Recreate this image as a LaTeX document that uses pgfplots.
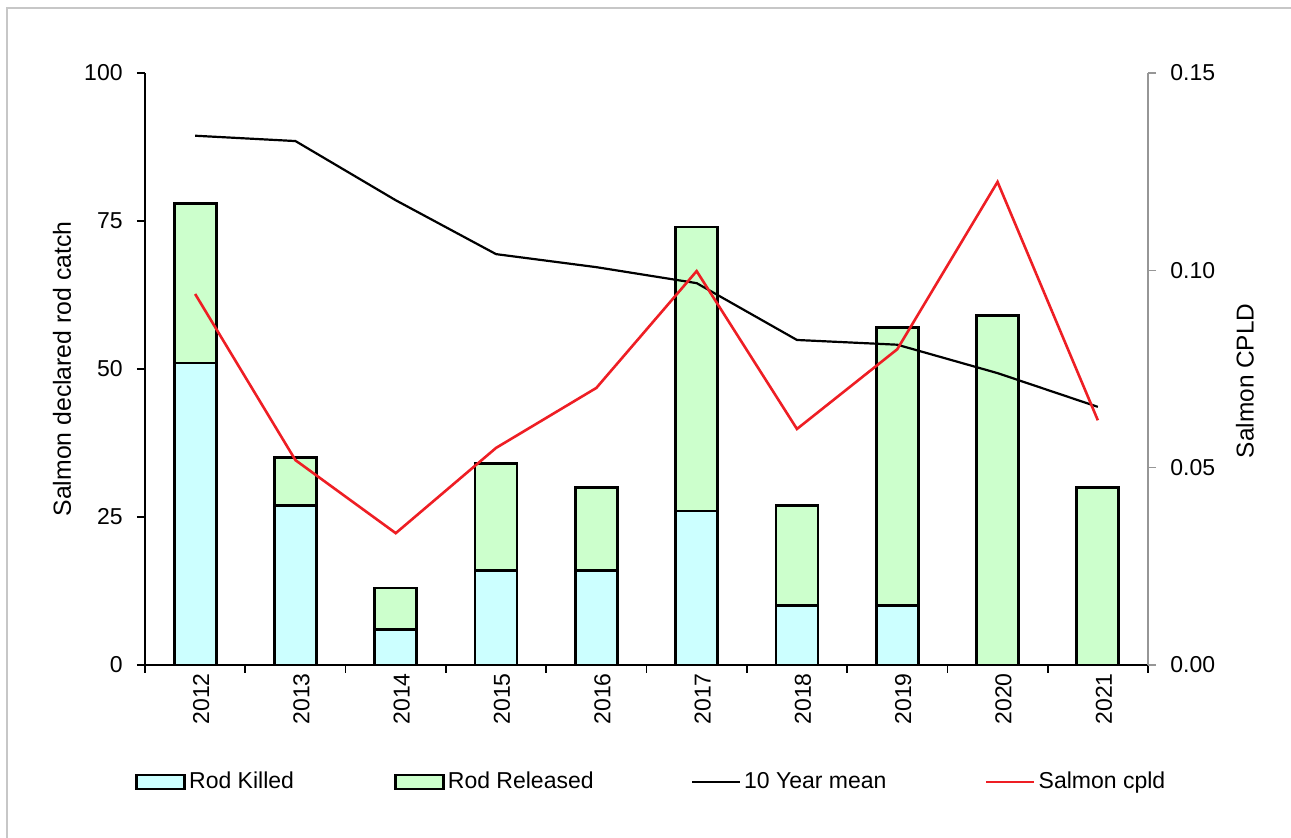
\documentclass[border=0pt]{standalone}
\usepackage{pgfplots}
\pgfplotsset{compat=1.18}
\usepackage{fontspec}
\setmainfont{Liberation Sans}
\definecolor{killed}{RGB}{204,255,255}
\definecolor{released}{RGB}{204,255,204}
\definecolor{axgray}{RGB}{150,150,150}
\definecolor{cpldred}{RGB}{238,30,36}

\begin{document}
\begin{tikzpicture}[font=\fontsize{11.5}{13}\selectfont]
\path[use as bounding box] (0,0) rectangle (645.5pt,419pt);
\draw[black!22, line width=0.7pt] (3.5pt,0) -- (3.5pt,415pt) -- (645.5pt,415pt);

\pgfplotsset{
  base/.style={
    scale only axis, width=501.5pt, height=296pt,
    at={(72.5pt,86.5pt)}, anchor=south west,
    xmin=-0.5, xmax=9.5,
    /pgf/number format/assume math mode=true,
    tick align=outside,
    ticklabel style={font=\fontsize{11.5}{13}\selectfont},
    axis line style={line width=0.8pt},
  },
  barleg/.style={legend image code/.code={\draw[##1] (0pt,-3.5pt) rectangle (24pt,3.5pt);}},
  lineleg/.style={legend image code/.code={\draw[##1] (0pt,0pt) -- (24pt,0pt);}},
}

% bars, left axis
\begin{axis}[base,
  ymin=0, ymax=100,
  axis x line*=bottom, axis y line*=left,
  ybar stacked, bar width=21pt,
  ytick={0,25,50,75,100},
  major tick length=4pt, minor tick length=4pt,
  every tick/.style={black, line width=0.8pt},
  xtick={0,...,9},
  xticklabels={2012,2013,2014,2015,2016,2017,2018,2019,2020,2021},
  major x tick style={draw=none},
  minor xtick={-0.5,0.5,...,9.5},
  xticklabel style={rotate=90, anchor=east, inner sep=0pt, yshift=-3pt},
  yticklabel style={anchor=east, inner sep=0pt, xshift=-7pt},
  every axis y label/.style={at={(axis description cs:-0.0828,0.5)}, rotate=90, anchor=center, font=\fontsize{12.4}{14}\selectfont},
  ylabel={Salmon declared rod catch},
]
\addplot[fill=killed, draw=black, line width=1.4pt] coordinates {
(0,51) (1,27) (2,6) (3,16) (4,16) (5,26) (6,10) (7,10) (8,0) (9,0)};
\addplot[fill=released, draw=black, line width=1.4pt] coordinates {
(0,27) (1,8) (2,7) (3,18) (4,14) (5,48) (6,17) (7,47) (8,59) (9,30)};
\end{axis}

% ten year mean, left axis scale
\begin{axis}[base, ymin=0, ymax=100, hide axis]
\addplot[black, line width=1.1pt] coordinates {
(0,89.4) (1,88.5) (2,78.5) (3,69.4) (4,67.2) (5,64.5) (6,54.9) (7,54.1) (8,49.3) (9,43.6)};
\end{axis}

% cpld, right axis
\begin{axis}[base,
  ymin=0, ymax=0.15,
  axis x line=none, axis y line*=right,
  axis line style={axgray, line width=0.8pt},
  ytick={0,0.05,0.1,0.15},
  major tick length=4pt,
  every tick/.style={axgray, line width=0.8pt},
  yticklabel style={anchor=west, inner sep=0pt, xshift=7pt, /pgf/number format/.cd, fixed, fixed zerofill, precision=2},
  scaled y ticks=false,
  every axis y label/.style={at={(axis description cs:1.0967,0.48)}, rotate=90, anchor=center, font=\fontsize{12.2}{14}\selectfont},
  ylabel={Salmon CPLD},
  legend columns=4,
  legend style={at={(axis description cs:-0.016,-0.1976)}, anchor=west, draw=none, fill=none,
    /tikz/every even column/.append style={column sep=0pt},
    nodes={inner xsep=1.5pt, font=\fontsize{11.5}{13}\selectfont}},
  legend cell align=left,
]
\addlegendimage{barleg, fill=killed, draw=black, line width=1.4pt}
\addlegendentry{\makebox[101pt][l]{Rod Killed}}
\addlegendimage{barleg, fill=released, draw=black, line width=1.4pt}
\addlegendentry{\makebox[120pt][l]{Rod Released}}
\addlegendimage{lineleg, black, line width=1.1pt}
\addlegendentry{\makebox[119pt][l]{10 Year mean}}
\addplot[cpldred, line width=1.3pt, lineleg] coordinates {
(0,0.094) (1,0.0519) (2,0.0334) (3,0.055) (4,0.0702) (5,0.0998) (6,0.0598) (7,0.080) (8,0.1224) (9,0.062)};
\addlegendentry{Salmon cpld}
\end{axis}
\end{tikzpicture}
\end{document}
